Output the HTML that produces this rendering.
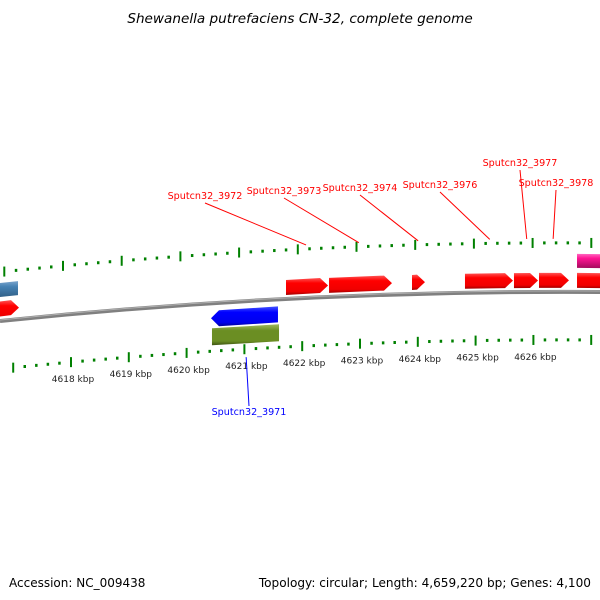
<!DOCTYPE html>
<html><head><meta charset="utf-8">
<style>
html,body{margin:0;padding:0;background:#fff;}
svg{display:block;font-family:"DejaVu Sans","Liberation Sans",sans-serif;}
</style></head>
<body>
<svg id="map" width="600" height="600" viewBox="0 0 600 600" xmlns="http://www.w3.org/2000/svg">
<defs>
<linearGradient id="gRed" x1="0" y1="0" x2="0" y2="1"><stop offset="0" stop-color="#ff5555"/><stop offset="0.3" stop-color="#ff0000"/><stop offset="0.8" stop-color="#f00000"/><stop offset="1" stop-color="#a00000"/></linearGradient>
<linearGradient id="gBlue" x1="0" y1="0" x2="0" y2="1"><stop offset="0" stop-color="#4455ff"/><stop offset="0.3" stop-color="#0000ff"/><stop offset="0.8" stop-color="#0000ee"/><stop offset="1" stop-color="#000099"/></linearGradient>
<linearGradient id="gGreen" x1="0" y1="0" x2="0" y2="1"><stop offset="0" stop-color="#a0b860"/><stop offset="0.3" stop-color="#6b8e23"/><stop offset="0.8" stop-color="#6b8e23"/><stop offset="1" stop-color="#3f5512"/></linearGradient>
<linearGradient id="gSteel" x1="0" y1="0" x2="0" y2="1"><stop offset="0" stop-color="#7aa4cc"/><stop offset="0.3" stop-color="#4682b4"/><stop offset="1" stop-color="#2c5a80"/></linearGradient>
<linearGradient id="gPink" x1="0" y1="0" x2="0" y2="1"><stop offset="0" stop-color="#ff66c0"/><stop offset="0.3" stop-color="#ff1493"/><stop offset="1" stop-color="#a00a5a"/></linearGradient>
</defs>
<text x="300" y="23" text-anchor="middle" font-size="13.6" font-style="italic" fill="#000">Shewanella putrefaciens CN-32, complete genome</text>
<path d="M0,321 Q300,290 600,292" fill="none" stroke="#808080" stroke-width="4"/>
<path d="M0,320 Q300,289 600,291" fill="none" stroke="#b0b0b0" stroke-width="1"/>
<g id="ticks"></g>
<g id="genes"></g>
<g id="labels"></g>
<text x="9" y="587" font-size="12" fill="#000">Accession: NC_009438</text>
<text x="591" y="587" text-anchor="end" font-size="12.1" fill="#000">Topology: circular; Length: 4,659,220 bp; Genes: 4,100</text>
</svg>
<script>
// ruler data (kbp)
const majorKbp = [4617,4618,4619,4620,4621,4622,4623,4624,4625,4626,4627];
const tickLabels = ["4618 kbp","4619 kbp","4620 kbp","4621 kbp","4622 kbp","4623 kbp","4624 kbp","4625 kbp","4626 kbp"];
const tickLabelKbp = [4618,4619,4620,4621,4622,4623,4624,4625,4626];
// genes (kbp start, end)
const geneStart = [4616.5,4616.5,4621.763,4622.502,4623.928,4624.838,4625.680,4626.110,4626.763,4626.763,4620.474,4620.491];
const geneEnd   = [4617.175,4617.158,4622.485,4623.584,4624.151,4625.663,4626.093,4626.625,4628.0,4628.0,4621.625,4621.643];
const geneTrack = ["fwd","fwd2","fwd","fwd","fwd","fwd","fwd","fwd","fwd","fwd2","rev","rev2"];
const geneColor = ["gRed","gSteel","gRed","gRed","gRed","gRed","gRed","gRed","gRed","gPink","gBlue","gGreen"];
const geneArrow = [true,false,true,true,true,true,true,true,false,false,true,false];
const labelNames = ["Sputcn32_3972","Sputcn32_3973","Sputcn32_3974","Sputcn32_3976","Sputcn32_3977","Sputcn32_3978","Sputcn32_3971"];
const labelKbp = [4622.14,4623.04,4624.05,4625.27,4625.90,4626.35,4621.03];

const NS="http://www.w3.org/2000/svg";
function mk(tag,attrs,parent){const e=document.createElementNS(NS,tag);for(const k in attrs)e.setAttribute(k,attrs[k]);parent.appendChild(e);return e;}
function b(x){const t=x/600;return 321*(1-t)*(1-t)+580*t*(1-t)+292*t*t;}
function xB(k){return 67+(k-4618)*58.2;}
function xU(k){return 63+(k-4618)*58.7;}
function xL(k){return 71+(k-4618)*57.8;}
function yU(x){return b(x)-49;}
function yL(x){return b(x)+48;}

const tg=document.getElementById('ticks');
for(let i=0;i<majorKbp.length;i++){
  for(let j=0;j<5;j++){
    const k=majorKbp[i]+j*0.2;
    const major=(j===0);
    const h=major?10:3;
    let x=xU(k); if(x>-5&&x<605){
      const y=yU(x);
      const t=mk('line',{x1:x,y1:y-h/2,x2:x,y2:y+h/2,stroke:'#008000','stroke-width':major?2:2.5},tg);
      
      
    }
    x=xL(k); if(x>-5&&x<605){
      const y=yL(x);
      const t=mk('line',{x1:x,y1:y-h/2,x2:x,y2:y+h/2,stroke:'#008000','stroke-width':major?2:2.5},tg);
      
      
    }
  }
}
for(let i=0;i<tickLabels.length;i++){
  const x=xL(tickLabelKbp[i]);
  const t=mk('text',{x:x+2,y:yL(x)+20,'text-anchor':'middle','font-size':'9',fill:'#222'},tg);
  t.textContent=tickLabels[i];
  
  
}

const offs={fwd:[-19,-4],fwd2:[-38,-24],rev:[7,23],rev2:[25,42]};
const gg=document.getElementById('genes');
for(let i=0;i<geneStart.length;i++){
  const x1=xB(geneStart[i]), x2=xB(geneEnd[i]);
  const o=offs[geneTrack[i]];
  const t1=b(x1)+o[0],b1=b(x1)+o[1],t2=b(x2)+o[0],b2=b(x2)+o[1];
  let pts;
  const hd=8;
  if(!geneArrow[i]) pts=[[x1,t1],[x2,t2],[x2,b2],[x1,b1]];
  else if(geneTrack[i].startsWith('fwd')) pts=[[x1,t1],[x2-hd,t2],[x2,(t2+b2)/2],[x2-hd,b2],[x1,b1]];
  else pts=[[x1,(t1+b1)/2],[x1+hd,t1],[x2,t2],[x2,b2],[x1+hd,b1]];
  const p=mk('polygon',{points:pts.map(p=>p.join(',')).join(' '),fill:'url(#'+geneColor[i]+')'},gg);
  
  
}

const lg=document.getElementById('labels');
const labPos=[[205,199],[284,194],[360,191],[440,188],[520,166],[556,186],[249,415]];
for(let i=0;i<labelNames.length;i++){
  const blue=(i===6);
  const col=blue?'#0000ff':'#ff0000';
  const lx=labPos[i][0], ly=labPos[i][1];
  const tx=blue?xL(labelKbp[i]):xU(labelKbp[i]);
  const ty=blue?yL(tx)+8:yU(tx)-4;
  const l=mk('line',{x1:lx,y1:blue?ly-9:ly+4,x2:tx,y2:ty,stroke:col,'stroke-width':1},lg);
  
  
  const t=mk('text',{x:lx,y:ly,'text-anchor':'middle','font-size':'9.6',fill:col},lg);
  t.textContent=labelNames[i];
  
  
}
</script>
</body></html>
